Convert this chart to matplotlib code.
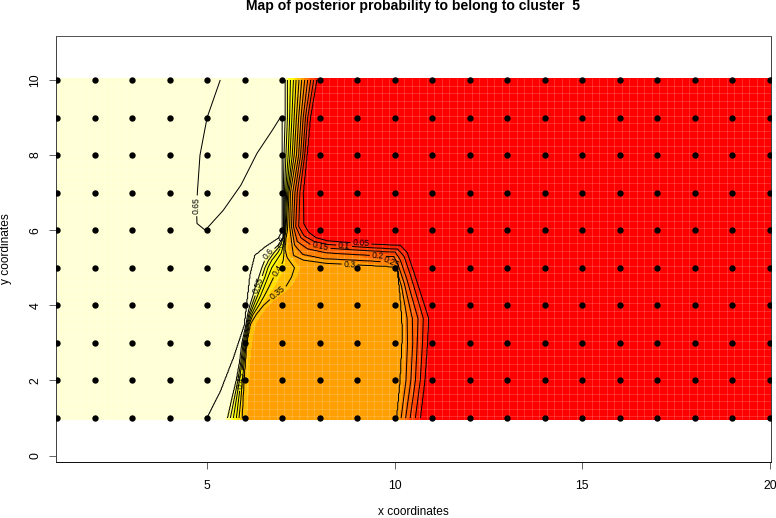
import numpy as np
import matplotlib
matplotlib.use("Agg")
import matplotlib.pyplot as plt

plt.rcParams['font.family'] = ['Liberation Sans', 'DejaVu Sans']

TITLE = "Map of posterior probability to belong to cluster  5"
XLABEL = "x coordinates"
YLABEL = "y coordinates"
x_ticks = [5, 10, 15, 20]
y_ticks = [0, 2, 4, 6, 8, 10]
sample_x = list(range(1, 21))
sample_y = list(range(1, 11))
heat_colours = ["#FF0000", "#FF2000", "#FF4000", "#FF6000", "#FF8000", "#FF9F00",
                "#FFBF00", "#FFDF00", "#FFFF00", "#FFFF2A", "#FFFF80", "#FFFFD5"]
z_top = 0.66

# Iso-probability curves: y values and matching x values
c65_y = [1, 1.68, 2.58, 3.47, 4.8, 5.33, 5.55, 5.78, 5.95, 7, 9]
c65_x = [5.0, 5.35, 5.7, 6.0, 6.15, 6.28, 6.55, 6.9, 7.0, 7.0, 7.0]
c60_y = [1, 1.5, 2, 2.5, 3, 3.5, 3.75, 4, 4.25, 4.5, 4.75, 5, 5.2, 5.4, 5.6, 5.8, 6, 7, 8, 9, 10]
c60_x = [5.55, 5.66, 5.78, 5.87, 5.93, 6.04, 6.08, 6.14, 6.22, 6.29, 6.38, 6.46, 6.54, 6.68, 6.9, 7.02, 7.04, 7.03, 7.05, 7.08, 7.08]
c55_x = [5.62, 5.72, 5.82, 5.90, 5.96, 6.06, 6.11, 6.19, 6.28, 6.36, 6.46, 6.54, 6.64, 6.78, 6.96, 7.03, 7.05, 7.06, 7.10, 7.14, 7.14]
c50_x = [5.70, 5.78, 5.86, 5.93, 5.99, 6.08, 6.14, 6.24, 6.34, 6.44, 6.54, 6.62, 6.72, 6.88, 7.00, 7.04, 7.06, 7.09, 7.16, 7.20, 7.22]
c45_x = [5.78, 5.84, 5.90, 5.96, 6.02, 6.10, 6.18, 6.30, 6.42, 6.52, 6.62, 6.72, 6.85, 6.98, 7.03, 7.05, 7.08, 7.12, 7.21, 7.26, 7.30]
c40_x = [5.85, 5.90, 5.94, 5.99, 6.05, 6.12, 6.22, 6.38, 6.52, 6.65, 6.77, 6.95, 7.03, 7.05, 7.05, 7.07, 7.10, 7.15, 7.27, 7.32, 7.37]
c35_y = [1, 2, 3, 3.5, 3.75, 4, 4.25, 4.5, 4.75, 5, 5.27, 5.5, 5.8, 6, 7, 8, 9, 10]
c35_x = [5.93, 5.98, 6.05, 6.15, 6.30, 6.50, 6.78, 7.10, 7.25, 7.33, 7.13, 7.07, 7.10, 7.14, 7.18, 7.32, 7.38, 7.45]
c30_y = [1, 2, 3, 3.5, 4, 4.45, 4.9, 5.03, 5.08, 5.12, 5.2, 5.33, 6.1, 7, 8, 9, 10]
c30_x = [10.06, 10.15, 10.2, 10.2, 10.17, 10.13, 10.08, 10.0, 9.0, 8.15, 7.57, 7.3, 7.2, 7.22, 7.38, 7.44, 7.52]
c25_y = [1, 2, 3, 3.65, 4, 4.5, 5.0, 5.15, 5.2, 5.24, 5.35, 5.6, 6.1, 7, 8, 9, 10]
c25_x = [10.17, 10.3, 10.34, 10.33, 10.27, 10.18, 10.02, 9.98, 9.0, 8.1, 7.55, 7.33, 7.25, 7.28, 7.44, 7.5, 7.6]
c20_y = [1, 2, 3, 3.65, 4, 4.6, 5.1, 5.3, 5.35, 5.39, 5.5, 5.7, 6.1, 7, 8, 9, 10]
c20_x = [10.29, 10.43, 10.48, 10.47, 10.39, 10.25, 10.08, 9.98, 9.0, 8.2, 7.68, 7.4, 7.3, 7.34, 7.49, 7.56, 7.68]
c15_y = [1, 2, 3, 3.65, 4, 4.7, 5.2, 5.42, 5.47, 5.52, 5.62, 5.8, 6.1, 7, 8, 9, 10]
c15_x = [10.41, 10.55, 10.6, 10.62, 10.52, 10.32, 10.15, 10.02, 9.0, 8.2, 7.75, 7.5, 7.36, 7.4, 7.55, 7.62, 7.76]
c10_y = [1, 2, 3, 3.65, 4, 4.8, 5.3, 5.5, 5.55, 5.62, 5.7, 5.85, 6.1, 7, 8, 9, 10]
c10_x = [10.55, 10.68, 10.74, 10.76, 10.66, 10.42, 10.25, 10.08, 9.08, 8.2, 7.85, 7.58, 7.44, 7.47, 7.6, 7.68, 7.84]
c05_y = [1, 2, 3, 3.65, 4, 4.9, 5.4, 5.6, 5.65, 5.72, 5.8, 5.95, 6.18, 7, 8, 9, 10]
c05_x = [10.68, 10.8, 10.87, 10.9, 10.79, 10.5, 10.33, 10.15, 9.08, 8.2, 7.9, 7.7, 7.57, 7.56, 7.66, 7.75, 7.92]
# The pocket just under 0.65 in the upper left of the map
pocket_left_y = [6, 6.18, 6.5, 7, 8, 9, 10]
pocket_left_x = [4.95, 4.73, 4.72, 4.74, 4.81, 5.0, 5.35]
pocket_right_y = [6, 6.53, 7.2, 8.05, 8.65, 9]
pocket_right_x = [4.95, 5.43, 5.9, 6.33, 6.73, 6.95]

contour_labels = [(0.65, 4.72, 6.65), (0.6, 6.5, 5.45), (0.55, 6.3, 4.55), (0.5, 7.05, 5.7),
                  (0.45, 5.9, 2.0), (0.4, 6.85, 4.95), (0.35, 6.87, 4.35), (0.3, 8.8, 5.1),
                  (0.25, 9.9, 5.18), (0.2, 9.55, 5.33), (0.15, 8.0, 5.5), (0.1, 8.65, 5.58),
                  (0.05, 9.1, 5.65)]

# Field sampled from the curves above; contouring is left to matplotlib
curves_desc = [
    (0.60, c60_y, c60_x), (0.55, c60_y, c55_x), (0.50, c60_y, c50_x), (0.45, c60_y, c45_x),
    (0.40, c60_y, c40_x), (0.35, c35_y, c35_x), (0.30, c30_y, c30_x), (0.25, c25_y, c25_x),
    (0.20, c20_y, c20_x), (0.15, c15_y, c15_x), (0.10, c10_y, c10_x), (0.05, c05_y, c05_x),
]
gx = np.arange(1.0, 20.001, 0.02)
gy = np.arange(1.0, 10.001, 0.02)
Z = np.zeros((gy.size, gx.size))
for i, y in enumerate(gy):
    xs, zs = [1.0], [z_top]
    has_left = y > 6.0
    has_right = 6.0 < y < 9.0
    if has_left:
        wl = np.interp(y, pocket_left_y, pocket_left_x)
        wr = np.interp(y, pocket_right_y, pocket_right_x) if has_right else None
        h = min(0.1, (wr - wl) / 3) if has_right else 0.1
        xs += [wl - h, wl, wl + h]
        zs += [z_top, 0.65, 0.64]
        if has_right:
            xs += [wr - h, wr, wr + h]
            zs += [0.64, 0.65, z_top]
    if y < 9.0:
        xs.append(np.interp(y, c65_y, c65_x))
        zs.append(0.65)
    else:
        xs.append(np.interp(y, c60_y, c60_x) - 0.03)
        zs.append(0.64)
    for z, cy, cx in curves_desc:
        xv = float(np.interp(y, cy, cx))
        if z == 0.30:
            x35 = xs[-1]
            xs.append(x35 + min(0.12, 0.4 * (xv - x35)))
            zs.append(0.33)
        xs.append(xv)
        zs.append(z)
    xs.append(xs[-1] + 0.4)
    zs.append(0.01)
    xs.append(20.0)
    zs.append(0.0)
    xs = np.maximum.accumulate(np.array(xs)) + np.arange(len(xs)) * 1e-5
    Z[i] = np.interp(gx, xs, zs)

fig = plt.figure(figsize=(7.76, 5.18), dpi=100)
W, H = 776.0, 518.0
ax = fig.add_axes([55.5 / W, (H - 462) / H, 715.5 / W, 426 / H])
sx = (770 - 57) / 19.0
sy = (418 - 80) / 9.0
ax.set_xlim(1 - (57 - 55.5) / sx, 20 + (771 - 770) / sx)
ax.set_ylim(1 - (462 - 418) / sy, 10 + (80 - 36) / sy)

fx = np.r_[0.95, gx, 20.05]
fy = np.r_[0.95, gy, 10.05]
ZF = np.pad(Z, 1, mode='edge')
ax.contourf(fx, fy, ZF, levels=np.linspace(0, z_top, 13), colors=heat_colours,
            antialiased=False, zorder=1)

grid_x = np.arange(1.05, 20.05, 0.2)
grid_y = np.arange(1.05, 10.05, 0.2)
ax.vlines(grid_x, 0.95, 10.05, colors='white', alpha=0.17, lw=0.7, zorder=2)
ax.hlines(grid_y, 0.95, 20.05, colors='white', alpha=0.17, lw=0.7, zorder=2)

for lvl, lx, ly in contour_labels:
    cs = ax.contour(gx, gy, Z, levels=[lvl], colors='black', linewidths=0.72, zorder=3)
    ax.clabel(cs, manual=[(lx, ly)], fontsize=6.2, inline=True,
              inline_spacing=2, fmt='%g', colors='black')

PX, PY = np.meshgrid(sample_x, sample_y)
ax.scatter(PX.ravel(), PY.ravel(), s=21, c='black', linewidths=0, zorder=4)

ax.set_xticks(x_ticks)
ax.set_yticks(y_ticks)
ax.tick_params(axis='x', length=5, width=0.72, color='#666666', labelsize=8.8, pad=8)
ax.tick_params(axis='y', length=5, width=0.72, color='#666666', labelsize=8.8, pad=5)
for t in ax.get_yticklabels():
    t.set_rotation(90)
    t.set_va('center')
for side, col in [('top', '#555555'), ('right', '#444444'), ('left', '#444444'), ('bottom', '#111111')]:
    ax.spines[side].set_color(col)
    ax.spines[side].set_linewidth(0.72)

fig.text(413 / W, 1 - 6 / H, TITLE, ha='center', va='center', fontsize=10.05, fontweight='bold')
fig.text(413 / W, 1 - 512 / H, XLABEL, ha='center', va='center', fontsize=8.6)
fig.text(6 / W, 1 - 249 / H, YLABEL, ha='center', va='center', rotation=90, fontsize=8.6)

fig.savefig('out.png', dpi=100)
